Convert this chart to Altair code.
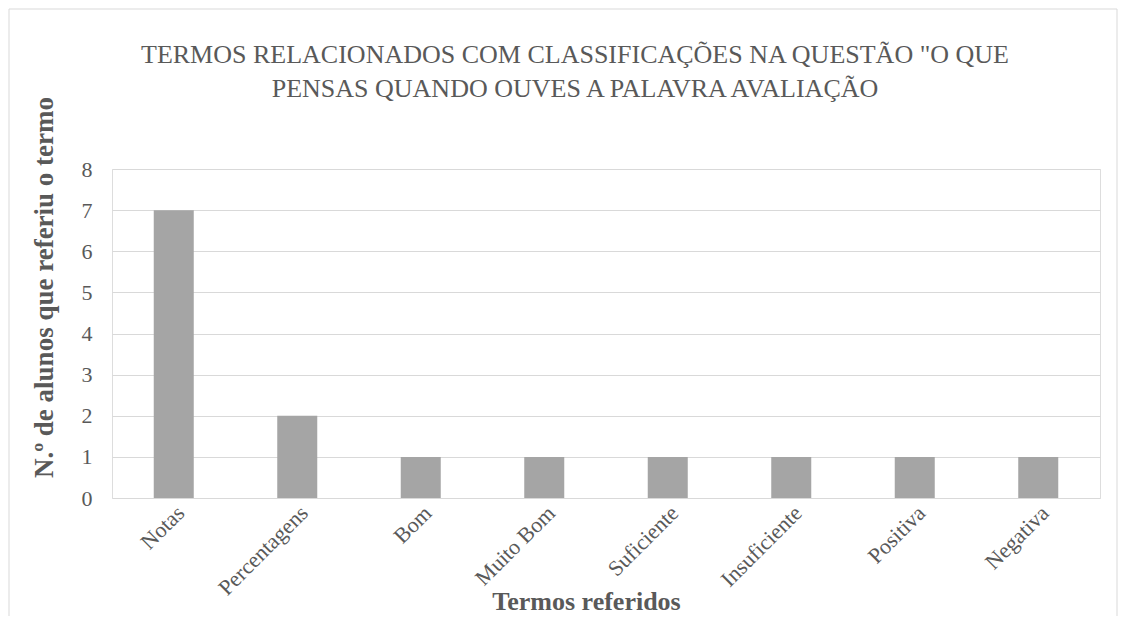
import altair as alt
import pandas as pd

categories = ["Notas", "Percentagens", "Bom", "Muito Bom", "Suficiente", "Insuficiente", "Positiva", "Negativa"]
counts = [7, 2, 1, 1, 1, 1, 1, 1]
y_ticks = [0, 1, 2, 3, 4, 5, 6, 7, 8]
title_lines = ['TERMOS RELACIONADOS COM CLASSIFICAÇÕES NA QUESTÃO "O QUE',
               "PENSAS QUANDO OUVES A PALAVRA AVALIAÇÃO"]

df = pd.DataFrame({"termo": categories, "n": counts})

FONT = "Liberation Serif"
GREY_TEXT = "#595959"

bars = alt.Chart(df).mark_bar(color="#a5a5a5").encode(
    x=alt.X(
        "termo:N",
        sort=categories,
        scale=alt.Scale(paddingInner=0.676, paddingOuter=0.338),
        axis=alt.Axis(
            title="Termos referidos",
            titleFont=FONT,
            titleFontSize=26,
            titleFontWeight="bold",
            titleColor=GREY_TEXT,
            titleX=474,
            titleY=111,
            titleAlign="center",
            titleBaseline="alphabetic",
            labelFont=FONT,
            labelFontSize=22,
            labelColor=GREY_TEXT,
            labelAngle=-45,
            labelAlign="right",
            labelBaseline="top",
            labelPadding=4,
            ticks=False,
            domain=False,
            grid=False,
        ),
    ),
    y=alt.Y(
        "n:Q",
        scale=alt.Scale(domain=[0, 8]),
        axis=alt.Axis(
            values=y_ticks,
            title="N.º de alunos que referiu o termo",
            titleFont=FONT,
            titleFontSize=27,
            titleFontWeight="bold",
            titleColor=GREY_TEXT,
            titleAngle=-90,
            titleX=-68,
            titleY=118,
            titleAlign="center",
            titleBaseline="middle",
            labelFont=FONT,
            labelFontSize=22,
            labelColor=GREY_TEXT,
            labelPadding=20,
            ticks=False,
            domain=False,
            grid=True,
            gridColor="#d9d9d9",
            gridWidth=1,
        ),
    ),
)

border = alt.Chart(pd.DataFrame({"a": [0]})).mark_rect(
    fill=None, stroke="#d9d9d9", strokeWidth=1
).encode(
    x=alt.value(-103), x2=alt.value(1005), y=alt.value(-160), y2=alt.value(470)
)

title1 = alt.Chart(pd.DataFrame({"t": [title_lines[0]]})).mark_text(
    font=FONT, fontSize=26, color=GREY_TEXT, align="center", baseline="alphabetic"
).encode(text="t:N", x=alt.value(463), y=alt.value(-106))

title2 = alt.Chart(pd.DataFrame({"t": [title_lines[1]]})).mark_text(
    font=FONT, fontSize=26, color=GREY_TEXT, align="center", baseline="alphabetic"
).encode(text="t:N", x=alt.value(463), y=alt.value(-72))

chart = alt.layer(border, bars, title1, title2).properties(
    width=988,
    height=329,
    padding={"left": 104, "top": 161, "right": 18, "bottom": 118},
    autosize=alt.AutoSizeParams(type="none"),
).configure_view(strokeWidth=0).configure(background="white")

chart.save("out.html", embed_options={"renderer": "svg", "actions": False})
